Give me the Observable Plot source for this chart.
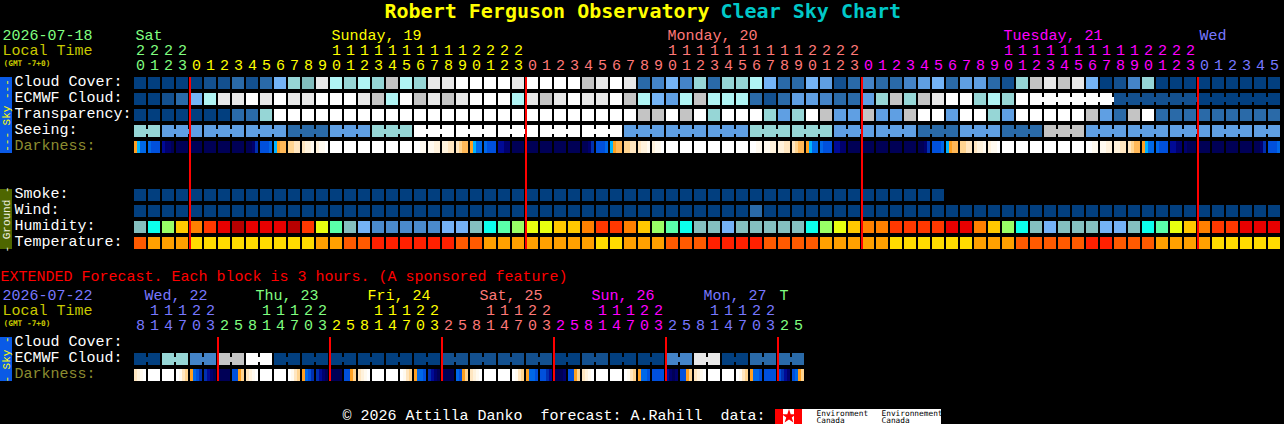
<!DOCTYPE html>
<html><head><meta charset="utf-8">
<script src="https://cdn.jsdelivr.net/npm/d3@7"></script>
<script src="https://cdn.jsdelivr.net/npm/@observablehq/plot@0.6"></script>
<style>html,body{margin:0;padding:0;background:#000;overflow:hidden}svg{display:block}</style>
</head><body><div id="chart"></div>
<script>
// ---------- values (one level per hourly block) ----------
const cloudCover = [0,0,0,0,0,1,1,2,1,2,5,7,6,10,8,7,8,7,9,8,7,10,10,11,11,11,11,10,11,11,11,11,9,10,11,10,2,3,5,3,7,2,7,7,8,5,2,2,5,4,1,2,3,2,2,3,4,5,2,4,4,2,1,7,9,10,9,10,5,0,1,3,7,0,0,0,0,0,0,0,0,0];
const ecmwfCloud = [0,0,1,2,5,8,10,10,11,10,11,10,10,11,11,11,10,9,8,11,9,10,9,10,11,11,11,8,10,9,10,11,10,10,11,9,8,5,4,8,9,8,8,8,2,1,2,4,4,3,2,2,4,7,9,7,9,10,11,11,7,8,7,11,11,11,11,11,11,11,1,1,1,1,1,1,0,0,0,0,0,0];
const transparency = [0,0,0,0,0,0,0,2,2,7,11,11,11,11,11,11,11,11,11,11,11,11,11,11,11,11,11,11,11,11,11,11,11,11,11,11,9,9,11,9,11,7,11,11,11,7,4,7,11,9,4,4,9,4,4,9,11,11,4,11,11,7,4,11,11,11,11,11,9,4,2,9,11,2,2,2,2,2,2,2,2,2];
const seeing = [7,7,4,4,4,4,4,4,4,4,4,2,2,2,4,4,4,7,7,7,11,11,11,11,11,11,11,11,11,11,11,11,11,11,11,4,4,4,4,4,4,4,4,4,7,7,7,7,7,7,4,4,4,4,4,4,2,2,2,4,4,4,2,2,2,9,9,9,4,4,4,4,4,4,4,4,4,4,4,4,4,4];
const darkness = ["6788","8999","bccd","dddd","dddd","dddd","dddd","dddd","ddca","9998","7655","4433","3221","2110","0000","0000","0000","0000","0000","0000","0011","1122","2233","3455","6788","8999","bbcc","dddd","dddd","dddd","dddd","dddd","ddca","9998","7655","4433","3221","2110","0000","0000","0000","0000","0000","0000","0011","1122","2233","3455","6788","8999","bbcc","dddd","dddd","dddd","dddd","dddd","ddca","9998","7655","4433","3221","2110","0000","0000","0000","0000","0000","0000","0011","1122","2233","3455","6788","8999","bbcc","cddd","dddd","dddd","dddd","dddd","ddca","9998"];
const smoke = [0,0,0,0,0,0,0,0,0,0,0,0,0,0,0,0,0,0,0,0,0,0,0,0,0,0,0,0,0,0,0,0,0,0,0,0,0,0,0,0,0,0,0,0,0,0,0,0,0,0,0,0,0,0,0,0,0,0];
const wind = [0,0,0,0,0,0,0,0,0,0,0,0,0,0,0,0,0,0,0,0,0,0,0,0,0,0,0,0,0,0,0,0,0,0,0,0,0,0,0,0,0,0,0,0,2,0,0,0,0,0,0,0,0,0,0,0,0,0,0,0,0,0,0,0,0,0,0,0,0,0,0,0,0,0,0,0,0,0,0,0,0,0];
const humidity = [2,3,5,7,8,9,10,11,10,10,10,11,9,6,4,2,1,0,0,0,0,0,1,1,2,3,4,5,6,6,7,7,8,9,9,8,7,5,4,3,2,2,1,2,2,2,2,2,3,5,6,7,8,8,9,9,9,9,10,10,8,7,5,3,2,1,2,2,2,1,1,2,3,4,6,7,8,9,9,10,10,10];
const temperature = [1,2,2,2,3,3,3,3,3,3,3,3,3,2,2,1,1,0,0,0,0,0,0,1,1,2,2,2,2,2,2,2,2,3,3,2,2,2,1,1,1,0,0,0,0,1,1,1,1,2,2,2,2,2,3,3,3,3,3,3,2,2,2,1,1,1,1,1,0,0,1,1,1,2,2,2,2,3,3,3,3,3];
const mainHours = [20,21,22,23,0,1,2,3,4,5,6,7,8,9,10,11,12,13,14,15,16,17,18,19,20,21,22,23,0,1,2,3,4,5,6,7,8,9,10,11,12,13,14,15,16,17,18,19,20,21,22,23,0,1,2,3,4,5,6,7,8,9,10,11,12,13,14,15,16,17,18,19,20,21,22,23,0,1,2,3,4,5];
const mainDayNames = ["Sat","Sunday, 19","Monday, 20","Tuesday, 21","Wed"];
const mainDayLabelCols = [0,14,38,62,76];
const mainDayFirstCols = [0,4,28,52,76];
const mainMidnights = [4,28,52,76];

const extEcmwf = [0,7,3,9,11,0,0,0,0,0,0,1,1,1,1,0,1,0,0,3,10,0,2,2]; // one per 2-column block
const extDarkness = ["3210","0000","0000","0134","689a","abcd","dddd","9964","3210","0000","0000","0134","689a","abcd","dddd","9964","3210","0000","0000","0134","6889","abcd","dddd","8964","3210","0000","0000","0134","6889","99ab","dddc","9964","3210","0000","0000","0134","6889","9999","bcdc","9964","3210","0000","0000","0134","6889","9999","9abc","9864"];
const extHours = [8,11,14,17,20,23,2,5,8,11,14,17,20,23,2,5,8,11,14,17,20,23,2,5,8,11,14,17,20,23,2,5,8,11,14,17,20,23,2,5,8,11,14,17,20,23,2,5];
const extDayNames = ["Wed, 22","Thu, 23","Fri, 24","Sat, 25","Sun, 26","Mon, 27","T"];
const extDayLabelPx = [144,255,367,479,591,703,779];
const extDayFirstCols = [0,6,14,22,30,38,46];
const extMidnights = [6,14,22,30,38,46];

// ---------- palettes ----------
const cloudPalette = ["#023f7f","#13508f","#2a6aa8","#4484c8","#5f9fe3","#74b4f6","#82bcbc","#96d6d6","#b0f4f4","#c4c4c4","#e8e8e8","#ffffff"];
const humidityPalette = ["#4a8acb","#74b2f6","#84bfbf","#0cffec","#5affaa","#99ff66","#e8ff10","#ffc800","#ff8000","#ff3800","#e80000","#b80000"];
const temperaturePalette = ["#ff2000","#ff5a00","#ffa000","#ffdc00"];
const darknessPalette = {"0":"#ffffff","1":"#fffaf0","2":"#fff2dc","3":"#ffe6c0","4":"#ffd490","5":"#ffb858","6":"#ffa020","7":"#00b4ff","8":"#0068e8","9":"#0050dc","a":"#0030b0","b":"#000a96","c":"#00006e","d":"#000056"};
const dayGreen="#80ff80", dayYellow="#ffff00", daySalmon="#ff7878", dayMagenta="#ff00ff", dayBlue="#7878ff";
const mainDayColors = [dayGreen,dayYellow,daySalmon,dayMagenta,dayBlue];
const extDayColors = [dayBlue,dayGreen,dayYellow,daySalmon,dayMagenta,dayBlue,dayGreen];

// ---------- layout: x unit = one 14px column, y unit = one 16px row ----------
const COL=14, ROW=16, X0=134, Y0=13, W=1284, H=424;
const col = px => (px-X0)/COL;
const row = px => (px-Y0)/ROW;
const CELL=12/COL, CELLH=12/ROW;
const EXT=0.25; // the extended panel sits a quarter row lower than the main grid
const thin='"Liberation Mono", monospace', mono='"DejaVu Sans Mono", monospace';
const FS=15;
const crisp={shapeRendering:"crispEdges"};

const cells=(values,r,palette)=>Plot.rect(values,{
  x1:(d,i)=>i, x2:(d,i)=>i+CELL, y1:r, y2:r+CELLH, fill:d=>palette[d], ...crisp});
const bridges=(values,r,palette,joined)=>Plot.rect(values.map((v,i)=>({v,i})).filter(d=>joined(d.i)),{
  x1:d=>d.i+CELL, x2:d=>d.i+1, y1:r+3.5/ROW, y2:r+8.5/ROW, fill:d=>palette[d.v], ...crisp});
const darkCells=(values,r)=>Plot.rect(values.flatMap((s,i)=>[...s].map((k,j)=>({i,j,k}))),{
  x1:d=>d.i+d.j*CELL/4, x2:d=>d.i+(d.j+1)*CELL/4, y1:r, y2:r+CELLH, fill:d=>darknessPalette[d.k], ...crisp});
const txt=(items,o={})=>Plot.text(items,{x:d=>col(d[0]),y:d=>row(d[1]),text:d=>d[2],textAnchor:"start",lineAnchor:"middle",fontFamily:thin,fontSize:FS,...o});
const digits=(hours,firsts,colors,yOnes,yTens)=>{
  const colorAt=i=>colors[d3.bisectRight(firsts,i)-1];
  const items=hours.map((h,i)=>({i,h}));
  const base={textAnchor:"middle",lineAnchor:"middle",fontFamily:thin,fontSize:FS,fill:d=>colorAt(d.i)};
  return [
    Plot.text(items,{...base,x:d=>d.i+CELL/2,y:row(yOnes),text:d=>String(d.h%10)}),
    Plot.text(items.filter(d=>d.h>=10),{...base,x:d=>d.i+CELL/2,y:row(yTens),text:d=>String(Math.floor(d.h/10))})
  ];
};
const bar=(px0,px1,fill)=>Plot.rect([0],{x1:col(0),x2:col(12),y1:row(px0),y2:row(px1),fill,...crisp});
const sideText=(s,py,fill)=>Plot.text([s],{x:col(6),y:row(py),text:d=>d,rotate:-90,textAnchor:"middle",lineAnchor:"middle",fontFamily:thin,fontSize:11,fill});
const redLines=(cols,r1,r2)=>Plot.rect(cols,{x1:d=>d-1/COL,x2:d=>d+1/COL,y1:r1,y2:r2,fill:"#ff0000",...crisp});
const logoBoxes=[[775,783,"#ff0000"],[783,794,"#ffffff"],[794,802,"#ff0000"],[802,941,"#ffffff"]];

const chart=Plot.plot({
  width:W,height:H,margin:0,
  x:{domain:[-X0/COL,(W-X0)/COL],range:[0,W],axis:null},
  y:{domain:[-Y0/ROW,(H-Y0)/ROW],range:[0,H],axis:null},
  color:{type:"identity"},
  style:{background:"#000",display:"block"},
  marks:[
    // title
    txt([[384,11.5,"Robert Ferguson Observatory"]],{fontFamily:mono,fontSize:20,fontWeight:"bold",fill:"#ffff00"}),
    txt([[720,11.5,"Clear Sky Chart"]],{fontFamily:mono,fontSize:20,fontWeight:"bold",fill:"#00c8c8"}),
    // main header
    txt([[2,35,"2026-07-18"]],{fill:dayGreen}),
    txt([[2,50,"Local Time"]],{fill:"#c8c800"}),
    txt([[3,62.5,"(GMT -7+0)"]],{fill:"#c8c800",fontFamily:mono,fontSize:7.8,fontWeight:"bold"}),
    ...mainDayNames.map((n,i)=>txt([[X0+mainDayLabelCols[i]*COL+1,35,n]],{fill:mainDayColors[i]})),
    ...digits(mainHours,mainDayFirstCols,mainDayColors,65,50),
    // row labels
    txt([[14,81,"Cloud Cover:"],[14,97,"ECMWF Cloud:"],[14,113,"Transparency:"],[14,129,"Seeing:"],[14,193,"Smoke:"],[14,209,"Wind:"],[14,225,"Humidity:"],[14,241,"Temperature:"],[14,341,"Cloud Cover:"],[14,357,"ECMWF Cloud:"]],{fill:"#ffffff"}),
    txt([[14,145,"Darkness:"],[14,373,"Darkness:"]],{fill:"#8c8c30"}),
    // side bars
    bar(77,153,"#0a5ae6"), sideText("--- Sky ---",115,"#ffff00"),
    bar(189,249,"#4e6600"), sideText("- Ground -",219,"#f0f0e0"),
    bar(337,381,"#0a5ae6"), sideText("- Sky -",359,"#ffff00"),
    // main cells
    cells(cloudCover,4,cloudPalette),
    cells(ecmwfCloud,5,cloudPalette), bridges(ecmwfCloud,5,cloudPalette,i=>i>=64&&i<81),
    cells(transparency,6,cloudPalette),
    cells(seeing,7,cloudPalette), bridges(seeing,7,cloudPalette,i=>i<81&&(i===0||(i>=2&&(i-2)%3!==2))),
    darkCells(darkness,8),
    cells(smoke,11,cloudPalette),
    cells(wind,12,cloudPalette),
    cells(humidity,13,humidityPalette),
    cells(temperature,14,temperaturePalette),
    redLines(mainMidnights,4,14+CELLH),
    // extended
    txt([[0,276,"EXTENDED Forecast. Each block is 3 hours. (A sponsored feature)"]],{fill:"#ff0000"}),
    txt([[2,295,"2026-07-22"]],{fill:dayBlue}),
    txt([[2,310,"Local Time"]],{fill:"#c8c800"}),
    txt([[3,322.5,"(GMT -7+0)"]],{fill:"#c8c800",fontFamily:mono,fontSize:7.8,fontWeight:"bold"}),
    ...extDayNames.map((n,i)=>txt([[extDayLabelPx[i],295,n]],{fill:extDayColors[i]})),
    ...digits(extHours,extDayFirstCols,extDayColors,325,310),
    cells(extEcmwf.flatMap(v=>[v,v]),21+EXT,cloudPalette),
    bridges(extEcmwf.flatMap(v=>[v,v]),21+EXT,cloudPalette,i=>i%2===0),
    darkCells(extDarkness,22+EXT),
    redLines(extMidnights,20+EXT,22+EXT+CELLH),
    // footer
    txt([[342,415,"\u00a9 2026 Attilla Danko  forecast: A.Rahill  data:"]],{fill:"#ffffff"}),
    Plot.rect(logoBoxes,{x1:d=>col(d[0]),x2:d=>col(d[1]),y1:row(409),y2:row(424),fill:d=>d[2],...crisp}),
    Plot.dot([0],{x:col(788.5),y:row(416),symbol:"star",r:4.5,fill:"#ff0000",stroke:"none"}),
    txt([[816,413,"Environment"],[816,420,"Canada"],[881,413,"Environnement"],[881,420,"Canada"]],{fill:"#000000",fontFamily:mono,fontSize:7.8})
  ]
});
document.getElementById("chart").appendChild(chart);
</script></body></html>
